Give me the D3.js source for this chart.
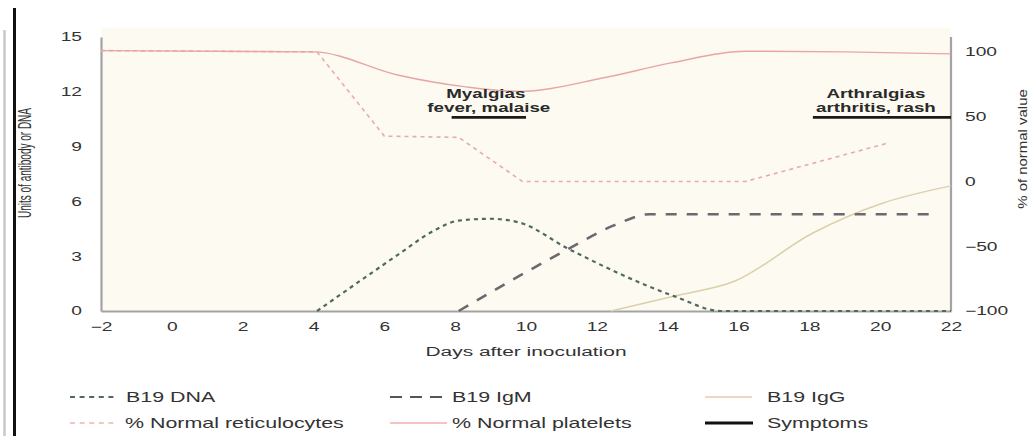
<!DOCTYPE html>
<html><head><meta charset="utf-8">
<script src="https://cdn.jsdelivr.net/npm/d3@7"></script>
<style>body{margin:0;background:#fff}svg{display:block}text{font-family:"Liberation Sans",Arial,Helvetica,sans-serif}</style>
</head><body><svg id="c" width="1036" height="436"></svg>
<script>
// ---- data ----
const xTicks = [-2,0,2,4,6,8,10,12,14,16,18,20,22];
const leftTicks = [0,3,6,9,12,15];
const rightTicks = [-100,-50,0,50,100];

const dnaDays  = [4.1,5.8,6.4,7.4,8.1,9.0,9.8,11.2,14.2,15.5,22];
const dnaUnits = [0,2.3,3.1,4.4,4.95,5.05,4.85,3.4,0.8,0,0];

const igmDays  = [8.1,11.2,12.5,13.5,21.6];
const igmUnits = [0,3.4,4.7,5.3,5.3];

const iggDays  = [12.4,14.2,15.9,18.1,20.0,22];
const iggUnits = [0,0.82,1.64,4.27,5.86,6.85];

const reticDays = [-2,4.1,6.0,8.1,9.9,16.2,20.2];
const reticPct  = [101,100,35,34,0,0,29.5];

const platDays = [-2,4,6.4,8.3,9.8,12.2,14.1,16.2,19,22];
const platPct  = [101,100,82,73,69.5,80,91.5,100.5,100,98.5];

const symptomStart = [7.9,18.1];
const symptomEnd   = [10.0,22.0];
const symptomLevel = 10.6;
const symptomLine1 = ["Myalgias","Arthralgias"];
const symptomLine2 = ["fever, malaise","arthritis, rash"];

const legendLabels = ["B19 DNA","B19 IgM","B19 IgG","% Normal reticulocytes","% Normal platelets","Symptoms"];

// ---- chart ----
const svg = d3.select("#c");
const SX = 1.55; // horizontal stretch of the original picture
const x  = d3.scaleLinear([-2,22],[101,951]);
const yL = d3.scaleLinear([0,15],[311,37]);
const yR = d3.scaleLinear([-100,111.5],[311,37]);

function stext(g, px, py, str, size, anchor, sx, fill){
  return g.append("text")
    .attr("transform",`translate(${px},${py}) scale(${sx},1)`)
    .attr("text-anchor",anchor).attr("font-size",size)
    .attr("fill",fill).attr("dy","0.35em").text(str);
}

// decorative frame edges
svg.append("line").attr("x1",4.5).attr("x2",4.5).attr("y1",30).attr("y2",436).attr("stroke","#c8c8c8").attr("stroke-width",2.5);
svg.append("line").attr("x1",14.5).attr("x2",14.5).attr("y1",8).attr("y2",436).attr("stroke","#111").attr("stroke-width",3);

// plot background
svg.append("rect").attr("x",x(-2)).attr("y",28).attr("width",x(22)-x(-2)).attr("height",yL(0)-28).attr("fill","#fdfaf1");

// axes
const axL = svg.append("g").attr("transform",`translate(${x(-2)},0)`)
  .call(d3.axisLeft(yL).tickValues(leftTicks).tickSize(0).tickSizeOuter(0));
const axR = svg.append("g").attr("transform",`translate(${x(22)},0)`)
  .call(d3.axisRight(yR).tickValues(rightTicks).tickSize(0).tickSizeOuter(0).tickFormat(d=>d<0?"\u2212"+Math.abs(d):d));
const axB = svg.append("g").attr("transform",`translate(0,${yL(0)})`)
  .call(d3.axisBottom(x).tickValues(xTicks).tickSize(0).tickSizeOuter(0).tickFormat(d=>d<0?"\u2212"+Math.abs(d):d));
[axL,axR,axB].forEach(a=>{
  a.select(".domain").attr("stroke","#a3a3a3").attr("stroke-width",2.2);
  a.selectAll("text").attr("font-size",12).attr("fill","#333").attr("font-family","Liberation Sans, Arial, sans-serif");
});
axR.select(".domain").attr("d",`M0,${yL(15)}V${yL(0)}`);
axL.selectAll("text").attr("x",-19/1.6).attr("transform","scale(1.6,1)");
axR.selectAll("text").attr("x",14/1.6).attr("transform","scale(1.6,1)");
axB.selectAll("text").attr("y",16).attr("dy","0.35em").attr("x",0).attr("transform","scale(1.6,1)");

// axis titles
svg.append("text").attr("transform","translate(25,163) rotate(-90) scale(1,1.8)")
  .attr("text-anchor","middle").attr("dy","0.35em").attr("font-size",10).attr("fill","#333").text("Units of antibody or DNA");
svg.append("text").attr("transform","translate(1022,149) rotate(-90) scale(1.15,1)")
  .attr("text-anchor","middle").attr("dy","0.35em").attr("font-size",13).attr("fill","#333").text("% of normal value");
stext(svg, 526, 351, "Days after inoculation", 13.5, "middle", SX, "#333");

// series
const lineL = d3.line().x(d=>x(d[0])).y(d=>yL(d[1]));
const lineR = d3.line().x(d=>x(d[0])).y(d=>yR(d[1]));
const zip = (a,b)=>a.map((v,i)=>[v,b[i]]);

svg.append("path").datum(zip(reticDays,reticPct)).attr("d",lineR.curve(d3.curveLinear))
  .attr("fill","none").attr("stroke","#e8abab").attr("stroke-width",1.6).attr("stroke-dasharray","4,4");
svg.append("path").datum(zip(platDays,platPct)).attr("d",lineR.curve(d3.curveMonotoneX))
  .attr("fill","none").attr("stroke","#e8a5a5").attr("stroke-width",1.4);
svg.append("path").datum(zip(iggDays,iggUnits)).attr("d",lineL.curve(d3.curveMonotoneX))
  .attr("fill","none").attr("stroke","#dcd0ab").attr("stroke-width",1.5);
svg.append("path").datum(zip(igmDays,igmUnits)).attr("d",lineL.curve(d3.curveMonotoneX))
  .attr("fill","none").attr("stroke","#6f6670").attr("stroke-width",2.6).attr("stroke-dasharray","11,10");
svg.append("path").datum(zip(dnaDays,dnaUnits)).attr("d",lineL.curve(d3.curveMonotoneX))
  .attr("fill","none").attr("stroke","#4f6a5c").attr("stroke-width",2.2).attr("stroke-dasharray","4,4");

// symptoms
const sg = svg.append("g");
symptomStart.forEach((s,i)=>{
  sg.append("line").attr("x1",x(s)).attr("x2",x(symptomEnd[i])).attr("y1",yL(symptomLevel)).attr("y2",yL(symptomLevel))
    .attr("stroke","#1a1a1a").attr("stroke-width",2.6);
  const cx = (x(s)+x(symptomEnd[i]))/2;
  const off = i===0?0:-6;
  stext(sg, cx+off-(i===0?3:0), yL(symptomLevel)-24, symptomLine1[i], 12.5, "middle", 1.5, "#2a2a2a").attr("font-weight","bold");
  stext(sg, cx+off, yL(symptomLevel)-10, symptomLine2[i], 12.5, "middle", 1.5, "#2a2a2a").attr("font-weight","bold");
});

// legend
const lg = svg.append("g");
const legendSwatch = [
  {x1:70,x2:118,y:397,stroke:"#4f6a5c",w:2,dash:"5,4.6"},
  {x1:390,x2:448,y:397,stroke:"#555",w:2.2,dash:"12,8"},
  {x1:705,x2:752,y:397,stroke:"#ecc9b3",w:1.6,dash:null},
  {x1:70,x2:118,y:423,stroke:"#f0b4b4",w:1.6,dash:"5,4.6"},
  {x1:390,x2:447,y:423,stroke:"#f0b0b0",w:1.6,dash:null},
  {x1:705,x2:753,y:423,stroke:"#111",w:3,dash:null}
];
const legendTextX = [126,452,767,125,452,767];
legendLabels.forEach((lab,i)=>{
  const s = legendSwatch[i];
  lg.append("line").attr("x1",s.x1).attr("x2",s.x2).attr("y1",s.y).attr("y2",s.y)
    .attr("stroke",s.stroke).attr("stroke-width",s.w).attr("stroke-dasharray",s.dash);
  stext(lg, legendTextX[i], s.y, lab, 14, "start", 1.53, "#333");
});
</script></body></html>
